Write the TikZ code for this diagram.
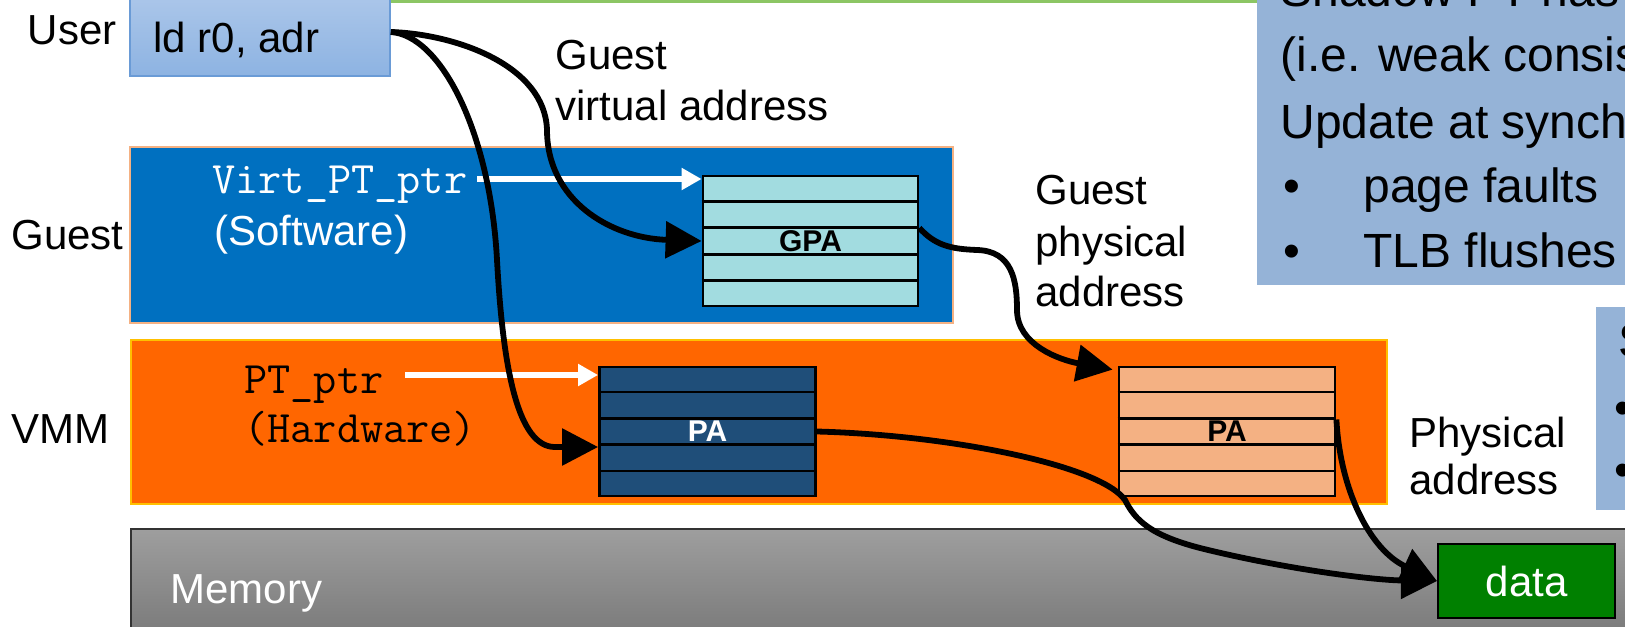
\documentclass[tikz,border=0pt]{standalone}
\usepackage{fontspec}
\setmainfont{Liberation Sans}
\usetikzlibrary{arrows.meta,calc}

\definecolor{guestblue}{HTML}{0070C0}
\definecolor{guestedge}{HTML}{F4B183}
\definecolor{vmmorange}{HTML}{FF6600}
\definecolor{vmmedge}{HTML}{FFC000}
\definecolor{gpafill}{HTML}{A2DCE0}
\definecolor{pafill}{HTML}{1F4E79}
\definecolor{spafill}{HTML}{F4B183}
\definecolor{notefill}{HTML}{95B3D7}
\definecolor{datagreen}{HTML}{008000}
\definecolor{topgreen}{HTML}{8CC664}
\definecolor{usertop}{HTML}{AEC8EA}
\definecolor{userbot}{HTML}{8DB3E2}
\definecolor{useredge}{HTML}{6A9BD6}
\definecolor{memtop}{HTML}{9E9E9E}
\definecolor{membot}{HTML}{727272}

\begin{document}
\begin{tikzpicture}[x=0.5pt, y=-0.5pt,
  lbl/.style={inner sep=0pt, font=\fontsize{21}{25}\selectfont},
  code/.style={inner sep=0pt, font=\ttfamily\fontsize{22.5}{27}\selectfont},
  note/.style={inner sep=0pt, font=\fontsize{24}{29}\selectfont},
  band/.style={rectangle, inner sep=0pt, line width=0.8pt},
  ptable/.style={rectangle, draw=black, line width=1.4pt, inner sep=0pt,
    minimum width=108pt, minimum height=64.5pt,
    font=\bfseries\fontsize{15}{18}\selectfont},
  rowline/.style={black, line width=1.4pt},
  flow/.style={black, line width=2.9pt, -{Triangle[length=18pt,width=18pt]}},
  ptr/.style={white, line width=2.6pt, -{Triangle[length=10pt,width=10.5pt]}},
]
\useasboundingbox (0,0) rectangle (1625,626);
\clip (0,0) rectangle (1625,626);
\fill[white] (0,0) rectangle (1625,626);

% top edge of the frame above
\draw[topgreen, line width=1.5pt] (390,1.5) -- (1257,1.5);

% user level instruction
\node[band, draw=useredge, top color=usertop, bottom color=userbot,
      minimum width=130pt, minimum height=44pt] (user) at (260,32) {};
\node[lbl, anchor=base west] (instr) at (153,53) {ld r0, adr};
\node[lbl, anchor=base east] (userlbl) at (117,45) {User};

% side notes
\node[band, fill=notefill, minimum width=211.5pt, minimum height=152.5pt] (note) at (1468.5,132.5) {};
\node[note, anchor=base west] (n1) at (1280,7) {Shadow PT has};
\node[note, anchor=base west] (n2) at (1280,72) {(i.e. weak consistency)};
\node[note, anchor=base west] (n3) at (1280,138) {Update at synchronization};
\node[note, anchor=base west] (n4) at (1283,202) {•};
\node[note, anchor=base west] (n5) at (1363,202) {page faults};
\node[note, anchor=base west] (n6) at (1283,267) {•};
\node[note, anchor=base west] (n7) at (1363,267) {TLB flushes};

\node[band, fill=notefill, minimum width=42pt, minimum height=101.5pt] (note2) at (1638,408.5) {};
\node[note, anchor=base west] (m1) at (1618,357) {S};
\node[note, anchor=base west] (m2) at (1614,424) {•};
\node[note, anchor=base west] (m3) at (1614,486) {•};

% layers
\node[band, draw=guestedge, fill=guestblue, minimum width=411.5pt, minimum height=88pt] (guest) at (541.5,235) {};
\node[band, draw=vmmedge, fill=vmmorange, minimum width=628pt, minimum height=82pt] (vmm) at (759,422) {};
\node[band, draw=black!80, top color=memtop, bottom color=membot,
      minimum width=764.5pt, minimum height=65.5pt] (mem) at (895.5,594.5) {};

\node[lbl, anchor=base east] (guestlbl) at (124,249) {Guest};
\node[lbl, anchor=base east] (vmmlbl) at (110,443) {VMM};
\node[lbl, anchor=base west, text=white] (memlbl) at (170,603) {Memory};

% page tables
\node[ptable, fill=gpafill, minimum width=107.5pt, minimum height=65pt] (gpa) at (810.5,241) {GPA};
\node[ptable, fill=pafill, text=white] (dpa) at (707.5,431.5) {PA};
\node[ptable, fill=spafill] (lpa) at (1227,431.5) {PA};
\foreach \t in {gpa,dpa,lpa}
  \foreach \k in {1,2,3,4}
    \draw[rowline] ($(\t.north west)!\k/5!(\t.south west)$) -- ($(\t.north east)!\k/5!(\t.south east)$);

\node[rectangle, draw=black, line width=1pt, fill=datagreen, text=white,
      minimum width=88.5pt, minimum height=37pt,
      font=\fontsize{21}{25}\selectfont] (data) at (1526.5,581) {data};

% pointer registers
\node[code, anchor=base west, text=white] (vpt) at (212,193) {Virt\_PT\_ptr};
\node[lbl, anchor=base west, text=white] (soft) at (214,245) {(Software)};
\node[code, anchor=base west] (hpt) at (244,393) {PT\_ptr};
\node[code, anchor=base west] (hard) at (244,442) {(Hardware)};

% address labels
\node[lbl, anchor=base west] (gva1) at (555,70) {Guest};
\node[lbl, anchor=base west] (gva2) at (555,120) {virtual address};
\node[lbl, anchor=base west] (gpa1) at (1035,204) {Guest};
\node[lbl, anchor=base west] (gpa2) at (1035,256) {physical};
\node[lbl, anchor=base west] (gpa3) at (1035,306) {address};
\node[lbl, anchor=base west] (pa1) at (1409,447) {Physical};
\node[lbl, anchor=base west] (pa2) at (1409,494) {address};

% table base pointers
\coordinate (vptr) at (477,179);
\draw[ptr] (vptr) -- (vptr -| gpa.west);
\coordinate (hptr) at (405,375);
\draw[ptr] (hptr) -- (hptr -| dpa.west);

% translation paths
\draw[flow] (user.east) .. controls (455,34) and (545,65) .. (547,130)
  .. controls (547,200) and (610,238) .. (gpa.west);
\draw[flow] (user.east) .. controls (440,35) and (490,130) .. (497,260)
  .. controls (503,370) and (518,447) .. (555,447) -- ([yshift=-7.75pt]dpa.west);
\draw[flow] ([yshift=6.5pt]gpa.east) .. controls (935,245) and (950,249) .. (977,250)
  .. controls (1012,251) and (1017,280) .. (1017,310)
  .. controls (1017,345) and (1060,360) .. ([xshift=-2.5pt,yshift=-2pt]lpa.north west);
\draw[flow] (dpa.east) .. controls (950,435) and (1100,465) .. (1125,500)
  .. controls (1135,520) and (1150,535) .. (1200,548)
  .. controls (1280,568) and (1370,580) .. (data.west);
\draw[flow] ([yshift=6pt]lpa.east) .. controls (1340,490) and (1370,550) .. (data.west);
\end{tikzpicture}
\end{document}
